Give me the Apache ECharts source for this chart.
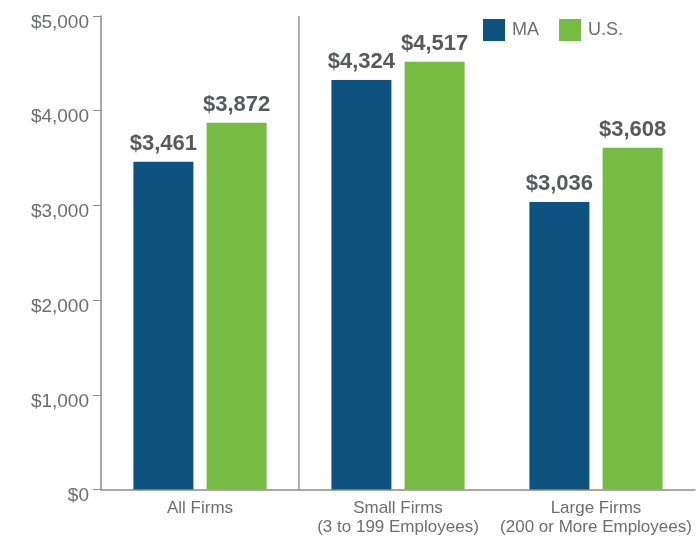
<!DOCTYPE html>
<html>
<head>
<meta charset="utf-8">
<script src="https://cdn.jsdelivr.net/npm/echarts@6/dist/echarts.min.js"></script>
<style>html,body{margin:0;padding:0;background:#fff}#c{width:700px;height:539px}</style>
</head>
<body>
<div id="c"></div>
<script>
const categories = ['All Firms', 'Small Firms\n(3 to 199 Employees)', 'Large Firms\n(200 or More Employees)'];
const seriesNames = ['MA', 'U.S.'];
const maValues = [3461, 4324, 3036];
const usValues = [3872, 4517, 3608];
const yTicks = [0, 1000, 2000, 3000, 4000, 5000];
// group separator sits after the first category (band index 1)
const separatorAt = 1;

const chart = echarts.init(document.getElementById('c'), null, {renderer: 'canvas'});
const fmt = v => '$' + v.toLocaleString('en-US');
const labelStyle = {
  show: true, position: 'top', distance: 7,
  fontFamily: 'Liberation Sans', fontWeight: 'bold', fontSize: 22, color: '#58595b',
  formatter: p => fmt(p.value)
};
chart.setOption({
  animation: false,
  legend: {
    left: 483, top: 19, padding: 0, itemWidth: 22, itemHeight: 22, itemGap: 20, icon: 'rect',
    textStyle: {fontFamily: 'Liberation Sans', fontSize: 18, color: '#6d6e71', padding: [0, 0, 0, 2]},
    data: seriesNames
  },
  grid: {left: 101, top: 16, right: 5, bottom: 49.5, containLabel: false},
  xAxis: [{
    type: 'category', data: categories,
    axisLine: {lineStyle: {color: '#8c8c8c', width: 1.5}},
    axisTick: {show: false},
    splitLine: {show: false},
    axisLabel: {interval: 0, fontFamily: 'Liberation Sans', fontSize: 17, color: '#6d6e71', margin: 9, lineHeight: 19}
  }, {
    type: 'value', min: 0, max: categories.length, show: false
  }],
  yAxis: {
    type: 'value', min: yTicks[0], max: yTicks[yTicks.length - 1], interval: 1000,
    axisLine: {show: true, lineStyle: {color: '#8c8c8c', width: 1.5}},
    axisTick: {show: true, length: 8, lineStyle: {color: '#8c8c8c'}},
    splitLine: {show: false},
    axisLabel: {
      fontFamily: 'Liberation Sans', fontSize: 19, color: '#6d6e71', margin: 12,
      verticalAlign: 'top', lineHeight: 13,
      formatter: v => fmt(v)
    }
  },
  series: [
    {name: seriesNames[0], type: 'bar', data: maValues, barWidth: 60, barGap: '22%',
     itemStyle: {color: '#0e5380'}, label: labelStyle},
    {name: seriesNames[1], type: 'bar', data: usValues, barWidth: 60, barGap: '22%',
     itemStyle: {color: '#76bc43'}, label: labelStyle},
    {name: 'separator', type: 'line', xAxisIndex: 1, silent: true, symbol: 'none',
     lineStyle: {color: '#888888', width: 1.3}, z: 1,
     data: [[separatorAt, yTicks[0]], [separatorAt, yTicks[yTicks.length - 1]]]}
  ]
});
</script>
</body>
</html>
